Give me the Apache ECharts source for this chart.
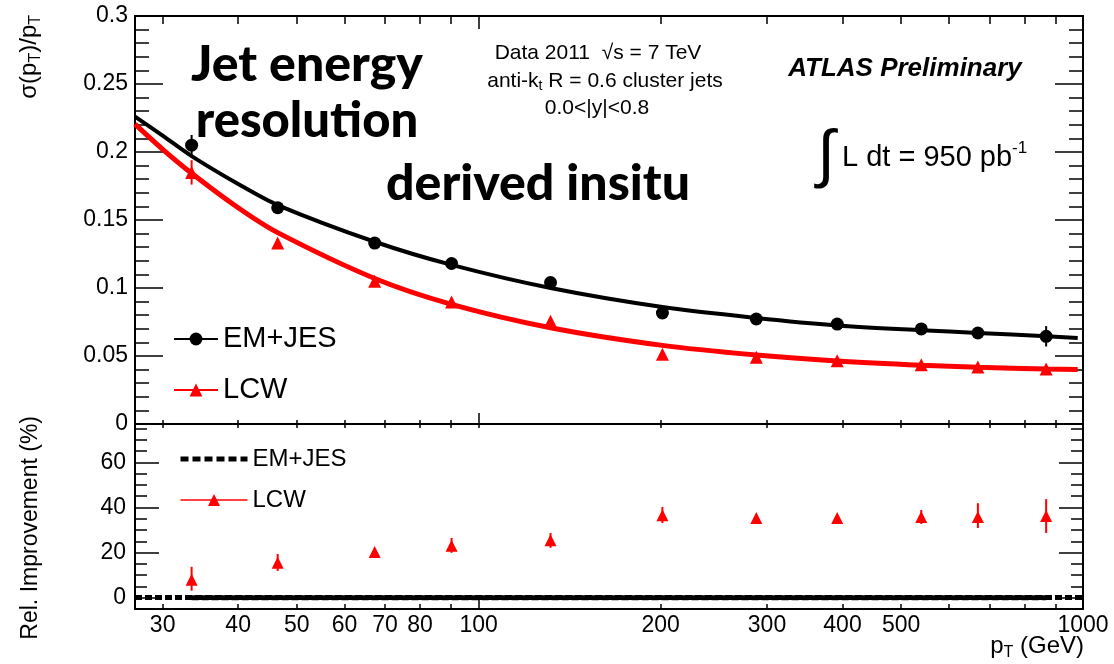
<!DOCTYPE html>
<html>
<head>
<meta charset="utf-8">
<script src="https://cdn.jsdelivr.net/npm/echarts@6/dist/echarts.min.js"></script>
<style>
  html, body { margin: 0; padding: 0; background: #fff; }
  #chart { width: 1114px; height: 664px; }
</style>
</head>
<body>
<div id="chart"></div>
<script>
  // pT bin centres (GeV)
  var ptBins = [33.5, 46.5, 67.3, 90.2, 131.5, 201.4, 288, 392, 540, 670, 869];

  // resolution sigma(pT)/pT, points and errors
  var emRes = [0.205, 0.159, 0.133, 0.118, 0.104, 0.0816, 0.0772, 0.0735, 0.0699, 0.0669, 0.0645];
  var emResErr = [0.0075, 0.002, 0.002, 0.002, 0.002, 0.002, 0.002, 0.002, 0.002, 0.002, 0.0075];
  var lcwRes = [0.185, 0.133, 0.105, 0.0897, 0.0755, 0.0512, 0.049, 0.0465, 0.0436, 0.042, 0.0405];
  var lcwResErr = [0.009, 0.003, 0.002, 0.002, 0.002, 0.002, 0.002, 0.002, 0.002, 0.002, 0.003];

  // fitted resolution curves
  var fitPt = [27, 30, 33.5, 40, 46.5, 67.3, 90.2, 131.5, 201.4, 288, 392, 540, 670, 869, 980];
  var emFit = [0.226, 0.212, 0.197, 0.1765, 0.161, 0.134, 0.117, 0.100, 0.086, 0.078, 0.0725, 0.069, 0.067, 0.0645, 0.0633];
  var lcwFit = [0.2205, 0.202, 0.1844, 0.159, 0.1407, 0.107, 0.088, 0.0708, 0.0578, 0.0507, 0.0463, 0.0432, 0.0418, 0.0404, 0.040];

  // relative improvement (%) wrt EM+JES
  var emImprove = [0, 0, 0, 0, 0, 0, 0, 0, 0, 0, 0];
  var lcwImprove = [8, 15.5, 20.3, 23, 25.5, 36.5, 35.3, 35.3, 35.8, 35.8, 36.2];
  var lcwImproveLo = [3.1, 11.9, 18.5, 19.9, 22.1, 33.1, 34, 34, 32.7, 30.9, 28.7];
  var lcwImproveHi = [13.7, 19.4, 22, 26.5, 28.7, 40.2, 36.7, 36.7, 38.9, 41.9, 43.7];

  // axes
  var ptMin = 27, ptMax = 1000;
  var xTickPt = [30, 40, 50, 60, 70, 80, 90, 100, 200, 300, 400, 500, 600, 700, 800, 900, 1000];
  var xLongTickPt = [100, 1000];
  var xLabelPt = [30, 40, 50, 60, 70, 80, 100, 200, 300, 400, 500, 1000];
  var impMajor = [0, 20, 40, 60];
  var impMinor = [5, 10, 15, 25, 30, 35, 45, 50, 55, 65, 70, 75];

  var FONT = 'Liberation Sans, Arial, sans-serif';
  var lx = function (v) { return Math.log10(v); };

  function xAx(grid, pos, ticks, len, labels) {
    return {
      type: 'value', gridIndex: grid, position: pos,
      min: lx(ptMin), max: lx(ptMax),
      axisLine: { onZero: false, lineStyle: { color: '#000', width: 2 } },
      axisTick: { inside: true, length: len, customValues: ticks.map(lx), lineStyle: { color: '#000', width: 1.5 } },
      axisLabel: labels ? {
        customValues: labels.map(lx), margin: 5, fontSize: 23, fontFamily: FONT, color: '#000',
        formatter: function (v) { return String(Math.round(Math.pow(10, v))); }
      } : { show: false },
      splitLine: { show: false }
    };
  }

  function yImp(pos, ticks, len, labels) {
    return {
      type: 'value', gridIndex: 1, position: pos, min: -5, max: 77,
      axisLine: { onZero: false, lineStyle: { color: '#000', width: 2 } },
      axisTick: { inside: true, length: len, customValues: ticks, lineStyle: { color: '#000', width: 1.5 } },
      axisLabel: labels ? { customValues: ticks, margin: 9, fontSize: 23, fontFamily: FONT, color: '#000' } : { show: false },
      splitLine: { show: false }
    };
  }

  function yRes(pos, labels) {
    return {
      type: 'value', gridIndex: 0, position: pos, min: 0, max: 0.3, interval: 0.05,
      axisLine: { onZero: false, lineStyle: { color: '#000', width: 2 } },
      axisTick: { inside: true, length: 28, lineStyle: { color: '#000', width: 1.5 } },
      minorTick: { show: true, splitNumber: 5, length: 14, lineStyle: { color: '#000', width: 1.5 } },
      axisLabel: labels ? { margin: 7, fontSize: 23, fontFamily: FONT, color: '#000' } : { show: false },
      splitLine: { show: false }, minorSplitLine: { show: false }
    };
  }

  function errorBars(xi, yi, lo, hi, color) {
    return {
      type: 'custom', xAxisIndex: xi, yAxisIndex: yi, silent: true, z: 3,
      data: ptBins.map(function (p, i) { return [lx(p), lo[i], hi[i]]; }),
      encode: { x: 0, y: [1, 2] },
      renderItem: function (params, api) {
        var a = api.coord([api.value(0), api.value(1)]);
        var b = api.coord([api.value(0), api.value(2)]);
        return { type: 'line', shape: { x1: a[0], y1: a[1], x2: b[0], y2: b[1] }, style: { stroke: color, lineWidth: 2 } };
      }
    };
  }

  function pairs(xs, ys) {
    return xs.map(function (p, i) { return [lx(p), ys[i]]; });
  }

  var chart = echarts.init(document.getElementById('chart'), null, { renderer: 'canvas' });

  chart.setOption({
    animation: false,
    backgroundColor: '#fff',
    grid: [
      { left: 135, right: 31, top: 16, height: 408, outerBoundsMode: 'none' },
      { left: 135, right: 31, top: 424, height: 185, outerBoundsMode: 'none' }
    ],
    xAxis: [
      xAx(0, 'bottom', xTickPt, 4),
      xAx(0, 'top', xTickPt, 8),
      xAx(0, 'top', xLongTickPt, 13),
      xAx(0, 'bottom', xLongTickPt, 11),
      xAx(1, 'bottom', xTickPt, 5, xLabelPt),
      xAx(1, 'top', xTickPt, 4),
      xAx(1, 'bottom', xLongTickPt, 10)
    ],
    yAxis: [
      yRes('left', true),
      yRes('right', false),
      yImp('left', impMajor, 24, true),
      yImp('left', impMinor, 12, false),
      yImp('right', impMajor, 24, false),
      yImp('right', impMinor, 12, false)
    ],
    legend: [
      {
        orient: 'vertical', left: 168, top: 319, itemWidth: 44, itemHeight: 16, itemGap: 21,
        textStyle: { fontSize: 29, lineHeight: 30, fontFamily: FONT, color: '#000' },
        data: [
          { name: 'EM+JES', lineStyle: { width: 2 } },
          { name: 'LCW', lineStyle: { width: 2 } }
        ]
      },
      {
        orient: 'vertical', left: 173, top: 441, itemWidth: 67, itemHeight: 15, itemGap: 15,
        textStyle: { fontSize: 24, lineHeight: 26, fontFamily: FONT, color: '#000' },
        formatter: function (name) { return name.replace(' ratio', ''); },
        data: [
          { name: 'EM+JES ratio', lineStyle: { width: 5, type: [8, 4], color: '#000' }, itemStyle: { opacity: 0 } },
          { name: 'LCW ratio', lineStyle: { width: 1.5, color: '#ff0000' } }
        ]
      }
    ],
    series: [
      {
        name: 'EM+JES', type: 'line', xAxisIndex: 0, yAxisIndex: 0, smooth: 0.3,
        symbol: 'circle', showSymbol: false, z: 2,
        itemStyle: { color: '#000' }, lineStyle: { color: '#000', width: 4 },
        data: pairs(fitPt, emFit)
      },
      {
        name: 'LCW', type: 'line', xAxisIndex: 0, yAxisIndex: 0, smooth: 0.3,
        symbol: 'triangle', showSymbol: false, z: 2,
        itemStyle: { color: '#ff0000' }, lineStyle: { color: '#ff0000', width: 5 },
        data: pairs(fitPt, lcwFit)
      },
      errorBars(0, 0, emRes.map(function (v, i) { return v - emResErr[i]; }), emRes.map(function (v, i) { return v + emResErr[i]; }), '#000'),
      errorBars(0, 0, lcwRes.map(function (v, i) { return v - lcwResErr[i]; }), lcwRes.map(function (v, i) { return v + lcwResErr[i]; }), '#ff0000'),
      {
        name: 'EM+JES points', type: 'scatter', xAxisIndex: 0, yAxisIndex: 0, z: 4,
        symbol: 'circle', symbolSize: 13, itemStyle: { color: '#000', opacity: 1 },
        data: pairs(ptBins, emRes)
      },
      {
        name: 'LCW points', type: 'scatter', xAxisIndex: 0, yAxisIndex: 0, z: 4,
        symbol: 'triangle', symbolSize: 13, itemStyle: { color: '#ff0000', opacity: 1 },
        data: pairs(ptBins, lcwRes)
      },
      {
        name: 'EM+JES ratio', type: 'line', xAxisIndex: 4, yAxisIndex: 2, showSymbol: false, symbol: 'none', z: 2,
        itemStyle: { color: '#000' }, lineStyle: { color: '#000', width: 5, type: [7, 3] },
        data: pairs(ptBins, emImprove),
        markLine: {
          silent: true, symbol: ['none', 'none'], label: { show: false },
          lineStyle: { color: '#000', width: 5, type: [7, 3] },
          data: [{ yAxis: 0 }]
        }
      },
      errorBars(4, 2, lcwImproveLo, lcwImproveHi, '#ff0000'),
      {
        name: 'LCW ratio', type: 'line', xAxisIndex: 4, yAxisIndex: 2, z: 4,
        symbol: 'triangle', symbolSize: 12, showSymbol: true,
        itemStyle: { color: '#ff0000', opacity: 1 }, lineStyle: { color: '#ff0000', width: 0 },
        data: pairs(ptBins, lcwImprove)
      }
    ],
    graphic: [
      {
        type: 'text', x: 29, y: 15, rotation: Math.PI / 2,
        style: {
          text: '{m|σ(p}{s|T}{m|)/p}{s|T}', align: 'right', verticalAlign: 'middle', fill: '#000',
          rich: {
            m: { fontSize: 24, lineHeight: 30, fontFamily: FONT },
            s: { fontSize: 16, lineHeight: 16, fontFamily: FONT, verticalAlign: 'bottom' }
          }
        }
      },
      {
        type: 'text', x: 31, y: 416, rotation: Math.PI / 2,
        style: { text: 'Rel. Improvement (%)', align: 'right', verticalAlign: 'middle', fill: '#000', fontSize: 23, fontFamily: FONT }
      },
      {
        type: 'text', x: 1084, y: 646,
        style: {
          text: '{m|p}{s|T}{m| (GeV)}', align: 'right', verticalAlign: 'middle', fill: '#000',
          rich: {
            m: { fontSize: 24, lineHeight: 30, fontFamily: FONT },
            s: { fontSize: 16, lineHeight: 16, fontFamily: FONT, verticalAlign: 'bottom' }
          }
        }
      },
      {
        type: 'text', x: 307, y: 65,
        style: { text: 'Jet energy', align: 'center', verticalAlign: 'middle', fill: '#000', fontSize: 50, fontWeight: 900, fontFamily: 'Lato, sans-serif' }
      },
      {
        type: 'text', x: 307, y: 121,
        style: { text: 'resolution', align: 'center', verticalAlign: 'middle', fill: '#000', fontSize: 49, fontWeight: 900, fontFamily: 'Lato, sans-serif' }
      },
      {
        type: 'text', x: 538, y: 184,
        style: { text: 'derived insitu', align: 'center', verticalAlign: 'middle', fill: '#000', fontSize: 50, fontWeight: 900, fontFamily: 'Lato, sans-serif' }
      },
      {
        type: 'text', x: 598, y: 53,
        style: { text: 'Data 2011  √s = 7 TeV', align: 'center', verticalAlign: 'middle', fill: '#000', fontSize: 21, fontFamily: FONT }
      },
      {
        type: 'text', x: 605, y: 81,
        style: {
          text: '{m|anti-k}{s|t}{m| R = 0.6 cluster jets}', align: 'center', verticalAlign: 'middle', fill: '#000',
          rich: {
            m: { fontSize: 21, lineHeight: 24, fontFamily: FONT },
            s: { fontSize: 14, lineHeight: 14, fontFamily: FONT, verticalAlign: 'bottom' }
          }
        }
      },
      {
        type: 'text', x: 597, y: 108,
        style: { text: '0.0<|y|<0.8', align: 'center', verticalAlign: 'middle', fill: '#000', fontSize: 21, fontFamily: FONT }
      },
      {
        type: 'text', x: 905, y: 69,
        style: { text: 'ATLAS Preliminary', align: 'center', verticalAlign: 'middle', fill: '#000', fontSize: 26, fontWeight: 'bold', fontStyle: 'italic', fontFamily: FONT }
      },
      {
        type: 'text', x: 826, y: 157,
        style: { text: '∫', align: 'center', verticalAlign: 'middle', fill: '#000', fontSize: 64, fontFamily: FONT }
      },
      {
        type: 'text', x: 842, y: 158,
        style: {
          text: '{m|L dt = 950 pb}{u|-1}', align: 'left', verticalAlign: 'middle', fill: '#000',
          rich: {
            m: { fontSize: 29, lineHeight: 36, fontFamily: FONT },
            u: { fontSize: 17, lineHeight: 17, fontFamily: FONT, verticalAlign: 'top' }
          }
        }
      }
    ]
  });
</script>
</body>
</html>
